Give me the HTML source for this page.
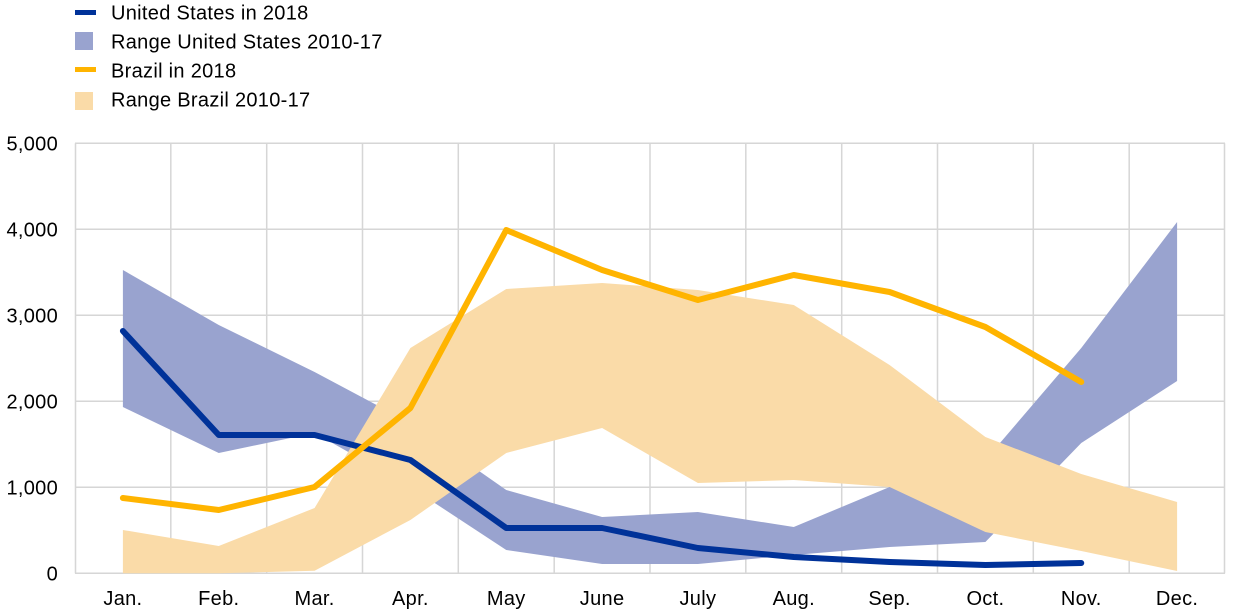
<!DOCTYPE html>
<html>
<head>
<meta charset="utf-8">
<style>
  html, body { margin:0; padding:0; background:#ffffff; }
  body { width:1240px; height:616px; overflow:hidden; }
  svg { display:block; }
  text { font-family: "Liberation Sans", Arial, sans-serif; font-size:20px; fill:#000; letter-spacing:0.3px; }
</style>
</head>
<body>
<svg width="1240" height="616" viewBox="0 0 1240 616" xmlns="http://www.w3.org/2000/svg">
  <!-- Legend -->
  <rect x="75" y="10" width="21" height="5" fill="#003299"/>
  <text x="111" y="19.5">United States in 2018</text>
  <rect x="75" y="32" width="18" height="18" fill="#99A3CF"/>
  <text x="111" y="48.5">Range United States 2010-17</text>
  <rect x="75" y="67" width="21" height="5" fill="#FFB400"/>
  <text x="111" y="77.5">Brazil in 2018</text>
  <rect x="75" y="92" width="18" height="18" fill="#FADBA8"/>
  <text x="111" y="106.5">Range Brazil 2010-17</text>

  <!-- Grid -->
  <g stroke="#d6d6d6" stroke-width="1.5" fill="none">
    <line x1="75" y1="143.3" x2="1225" y2="143.3"/>
    <line x1="75" y1="229.3" x2="1225" y2="229.3"/>
    <line x1="75" y1="315.3" x2="1225" y2="315.3"/>
    <line x1="75" y1="401.3" x2="1225" y2="401.3"/>
    <line x1="75" y1="487.3" x2="1225" y2="487.3"/>
    <line x1="75" y1="573.3" x2="1225" y2="573.3"/>
    <line x1="75.5" y1="143.3" x2="75.5" y2="573.3"/>
    <line x1="170.8" y1="143.3" x2="170.8" y2="573.3"/>
    <line x1="266.7" y1="143.3" x2="266.7" y2="573.3"/>
    <line x1="362.5" y1="143.3" x2="362.5" y2="573.3"/>
    <line x1="458.3" y1="143.3" x2="458.3" y2="573.3"/>
    <line x1="554.2" y1="143.3" x2="554.2" y2="573.3"/>
    <line x1="650" y1="143.3" x2="650" y2="573.3"/>
    <line x1="745.8" y1="143.3" x2="745.8" y2="573.3"/>
    <line x1="841.7" y1="143.3" x2="841.7" y2="573.3"/>
    <line x1="937.5" y1="143.3" x2="937.5" y2="573.3"/>
    <line x1="1033.3" y1="143.3" x2="1033.3" y2="573.3"/>
    <line x1="1129.2" y1="143.3" x2="1129.2" y2="573.3"/>
    <line x1="1224.5" y1="143.3" x2="1224.5" y2="573.3"/>
  </g>

  <!-- US range -->
  <polygon fill="#99A3CF" points="
    122.9,270 218.75,325 314.6,372 410.4,423 506.25,490 602.1,517 697.9,512 793.75,527 889.6,487 985.4,460 1081.25,348 1177.1,222
    1177.1,381 1081.25,443 985.4,542 889.6,547 793.75,555 697.9,564 602.1,564 506.25,550 410.4,487 314.6,433 218.75,453 122.9,407"/>

  <!-- Brazil range -->
  <polygon fill="#FADBA8" points="
    122.9,530 218.75,546 314.6,508 410.4,348 506.25,289 602.1,283 697.9,290 793.75,305 889.6,365 985.4,437 1081.25,474 1177.1,502
    1177.1,571 1081.25,551 985.4,532 889.6,487 793.75,480 697.9,483 602.1,428 506.25,453 410.4,520 314.6,570.7 218.75,573.3 122.9,573.3"/>

  <!-- US line -->
  <polyline fill="none" stroke="#003299" stroke-width="6" stroke-linejoin="round" stroke-linecap="round" points="
    122.9,331 218.75,435 314.6,435 410.4,460 506.25,528 602.1,528 697.9,548 793.75,557 889.6,562 985.4,565 1081.25,563"/>

  <!-- Brazil line -->
  <polyline fill="none" stroke="#FFB400" stroke-width="6" stroke-linejoin="round" stroke-linecap="round" points="
    122.9,498 218.75,510 314.6,487 410.4,408 506.25,230 602.1,270 697.9,300 793.75,275 889.6,292 985.4,327 1081.25,382"/>

  <!-- Y axis labels -->
  <g text-anchor="end">
    <text x="58" y="150.5">5,000</text>
    <text x="58" y="236.5">4,000</text>
    <text x="58" y="322.5">3,000</text>
    <text x="58" y="408.5">2,000</text>
    <text x="58" y="494.5">1,000</text>
    <text x="58" y="580.5">0</text>
  </g>

  <!-- X axis labels -->
  <g text-anchor="middle">
    <text x="122.9" y="605">Jan.</text>
    <text x="218.75" y="605">Feb.</text>
    <text x="314.6" y="605">Mar.</text>
    <text x="410.4" y="605">Apr.</text>
    <text x="506.25" y="605">May</text>
    <text x="602.1" y="605">June</text>
    <text x="697.9" y="605">July</text>
    <text x="793.75" y="605">Aug.</text>
    <text x="889.6" y="605">Sep.</text>
    <text x="985.4" y="605">Oct.</text>
    <text x="1081.25" y="605">Nov.</text>
    <text x="1177.1" y="605">Dec.</text>
  </g>
</svg>
</body>
</html>
